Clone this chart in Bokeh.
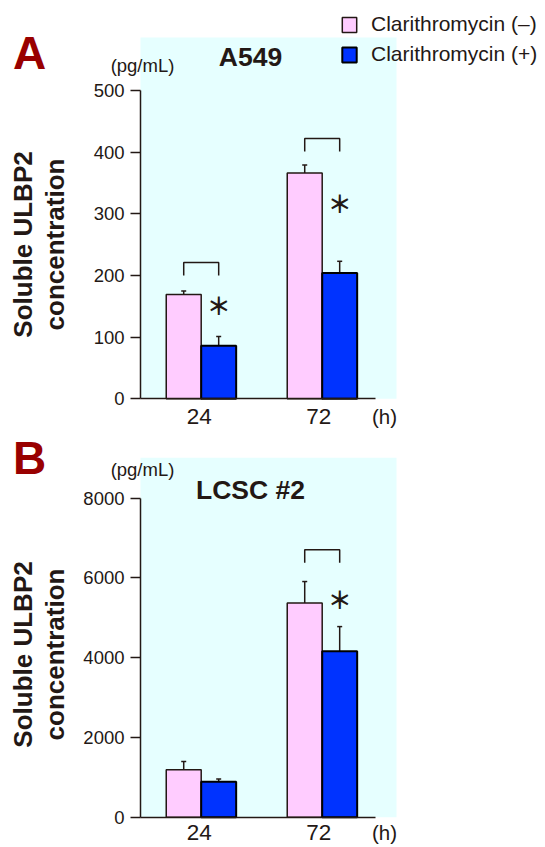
import math
from bokeh.plotting import figure
from bokeh.models import (Label, Legend, LegendItem, Whisker, TeeHead, FixedTicker,
                          ColumnDataSource, Range1d, BoxAnnotation)
from bokeh.layouts import column
from bokeh.embed import file_html
from bokeh.resources import INLINE
from bokeh.core.properties import value

# ---------------- data ----------------
hours = ["24", "72"]
series = ["Clarithromycin (–)", "Clarithromycin (+)"]

a_minus = [169, 366]
a_minus_sd = [6, 13]
a_plus = [86, 204]
a_plus_sd = [15, 19]
a_ticks = [0, 100, 200, 300, 400, 500]

b_minus = [1190, 5370]
b_minus_sd = [210, 540]
b_plus = [890, 4160]
b_plus_sd = [70, 620]
b_ticks = [0, 2000, 4000, 6000, 8000]

# significance marks: group index, bracket top, bracket leg end, asterisk height
a_sig_group = [0, 1]
a_sig_top = [221, 422]
a_sig_leg = [200, 401]
a_star_y = [149, 315]

b_sig_group = [1]
b_sig_top = [6706]
b_sig_leg = [6380]
b_star_y = [5434]

# ---------------- style / layout ----------------
INK = "#231815"
PINK = "#FFCCFF"
BLUE = "#0033FF"
BG = "#E6FFFF"
RED = "#990000"
FONT = "Liberation Sans"
W = 545
group_pos = [1, 2]
bar_w = 0.289
off = bar_w / 2
PXX = 121.0                      # pixels per x unit
X0 = 1 - 200.7 / PXX             # x range start (canvas left edge)
X1 = X0 + W / PXX
AXIS_X = X0 + 140 / PXX          # y axis line position
BG_RIGHT = X0 + 396 / PXX
XAXIS_END = X0 + 375 / PXX


def make_panel(letter, title, minus, minus_sd, plus, plus_sd, ticks,
               height, zero_px, ppu, bg_top_px,
               sig_group, sig_top, sig_leg, star_y,
               letter_sy, title_sy, unit_sy, ylab_sy, xlab_sy, legend=False):
    y_start = -(height - zero_px) / ppu
    y_end = zero_px / ppu
    p = figure(width=W, height=height, output_backend="svg", toolbar_location=None,
               title=None, x_range=Range1d(X0, X1), y_range=Range1d(y_start, y_end),
               min_border=0, min_border_left=0, min_border_right=0,
               min_border_top=0, min_border_bottom=0)
    p.background_fill_color = "white"
    p.border_fill_color = "white"
    p.outline_line_color = None
    p.xgrid.visible = False
    p.ygrid.visible = False

    p.add_layout(BoxAnnotation(left=AXIS_X, right=BG_RIGHT, bottom=0,
                               top=(zero_px - bg_top_px) / ppu,
                               fill_color=BG, fill_alpha=1, line_color=None,
                               level="underlay"))

    # y axis
    ya = p.yaxis[0]
    ya.fixed_location = AXIS_X
    ya.ticker = FixedTicker(ticks=ticks)
    ya.bounds = (0, ticks[-1])
    ya.major_tick_out = 10
    ya.major_tick_in = 0
    ya.minor_tick_out = 0
    ya.minor_tick_in = 0
    ya.major_label_standoff = 6
    ya.major_label_text_font = FONT
    ya.major_label_text_font_size = "18.5px"
    ya.major_label_text_color = INK
    ya.axis_line_color = INK
    ya.axis_line_width = 1.5
    ya.major_tick_line_color = INK
    ya.major_tick_line_width = 1.5

    # x axis (line only)
    xa = p.xaxis[0]
    xa.fixed_location = 0
    xa.ticker = FixedTicker(ticks=[])
    xa.bounds = (AXIS_X, XAXIS_END)
    xa.major_tick_out = 0
    xa.major_tick_in = 0
    xa.minor_tick_out = 0
    xa.minor_tick_in = 0
    xa.axis_line_color = INK
    xa.axis_line_width = 1.5
    xa.major_label_text_font_size = "0px"
    xa.major_label_standoff = 0

    xm = [g - off for g in group_pos]
    xp = [g + off for g in group_pos]
    r_minus = p.vbar(x=xm, top=minus, width=bar_w, fill_color=PINK,
                     line_color=INK, line_width=1.5)
    r_plus = p.vbar(x=xp, top=plus, width=bar_w, fill_color=BLUE,
                    line_color="#000000", line_width=2)

    for xs, m, sd in ((xm, minus, minus_sd), (xp, plus, plus_sd)):
        src = ColumnDataSource(dict(x=xs, lower=m, upper=[a + b for a, b in zip(m, sd)]))
        w = Whisker(source=src, base="x", lower="lower", upper="upper",
                    line_color=INK, line_width=1.5, lower_head=None,
                    upper_head=TeeHead(size=5, line_color=INK, line_width=1.5))
        p.add_layout(w)

    bx = []
    by = []
    for g, t, l in zip(sig_group, sig_top, sig_leg):
        x0 = group_pos[g] - off
        x1 = group_pos[g] + off
        bx.append([x0, x0, x1, x1])
        by.append([l, t, t, l])
    p.multi_line(xs=bx, ys=by, line_color=INK, line_width=1.5)
    p.text(x=[group_pos[g] + off for g in sig_group], y=star_y, text=["＊"] * len(sig_group),
           text_font=value("Noto Sans CJK JP"), text_font_size="24px", text_font_style="bold",
           text_color=INK, text_align="center", text_baseline="middle", y_offset=-2)

    def lab(text, x, y, size, bold=False, color=INK, angle=0, align="center"):
        p.add_layout(Label(text=text, x=x, y=y, x_units="screen", y_units="screen",
                           text_font=FONT, text_font_size=size,
                           text_font_style="bold" if bold else "normal",
                           text_color=color, angle=angle, text_align=align,
                           text_baseline="middle"))

    lab(letter, 29, letter_sy, "46px", bold=True, color=RED)
    lab(title, 250, title_sy, "26.5px", bold=True)
    lab("(pg/mL)", 142, unit_sy, "18.5px")
    lab("Soluble ULBP2", 22.7, ylab_sy, "26px", bold=True, angle=math.pi / 2)
    lab("concentration", 54.3, ylab_sy, "26px", bold=True, angle=math.pi / 2)
    for xc, h in zip([198.7, 318.3], hours):
        lab(h, xc, xlab_sy, "22.5px")
    lab("(h)", 384, xlab_sy, "20.5px")

    if legend:
        leg = Legend(items=[LegendItem(label=series[0], renderers=[r_minus]),
                            LegendItem(label=series[1], renderers=[r_plus])],
                     location=(340, height - 66), orientation="vertical",
                     glyph_width=18, glyph_height=19, label_height=24, spacing=6,
                     label_standoff=13, padding=0, margin=0,
                     border_line_color=None, background_fill_alpha=0,
                     label_text_font=FONT, label_text_font_size="21px",
                     label_text_color=INK)
        p.add_layout(leg)
    return p


pA = make_panel("A", "A549", a_minus, a_minus_sd, a_plus, a_plus_sd, a_ticks,
                height=430, zero_px=398.3, ppu=0.6166, bg_top_px=37,
                sig_group=a_sig_group, sig_top=a_sig_top, sig_leg=a_sig_leg, star_y=a_star_y,
                letter_sy=377.9, title_sy=373.7, unit_sy=365.4, ylab_sy=186, xlab_sy=14.3,
                legend=True)
pB = make_panel("B", "LCSC #2", b_minus, b_minus_sd, b_plus, b_plus_sd, b_ticks,
                height=417, zero_px=386.7, ppu=0.039875, bg_top_px=27.3,
                sig_group=b_sig_group, sig_top=b_sig_top, sig_leg=b_sig_leg, star_y=b_star_y,
                letter_sy=389.9, title_sy=358, unit_sy=378.4, ylab_sy=193, xlab_sy=15)

layout = column(pA, pB, spacing=0)
open("out.html", "w").write(file_html(layout, INLINE))
